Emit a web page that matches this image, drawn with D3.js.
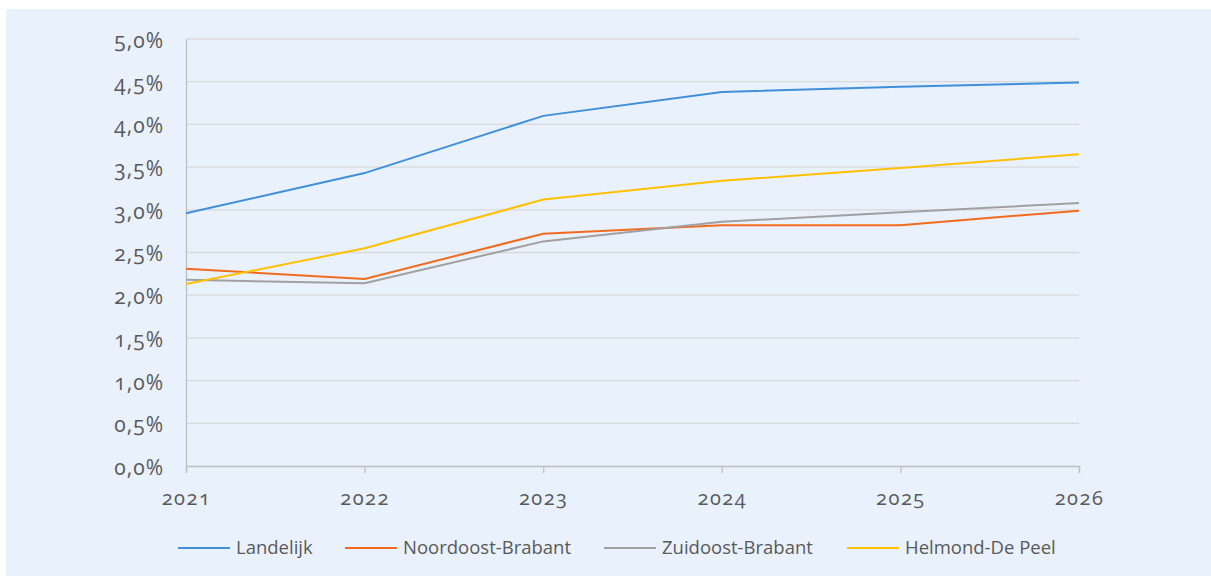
<!DOCTYPE html>
<html>
<head>
<meta charset="utf-8">
<script src="https://cdn.jsdelivr.net/npm/d3@7"></script>
<style>
  html, body { margin: 0; padding: 0; background: #fff; }
  svg { display: block; }
  text { font-family: "Open Sans", "Noto Sans", sans-serif; fill: #595959; font-feature-settings: "onum" 1; font-variant-numeric: oldstyle-nums; }
</style>
</head>
<body>
<div id="chart"></div>
<script>
var years = [2021, 2022, 2023, 2024, 2025, 2026];
var yTicks = [0, 0.5, 1, 1.5, 2, 2.5, 3, 3.5, 4, 4.5, 5];
var landelijk = [2.96, 3.43, 4.10, 4.38, 4.44, 4.49];
var noordoost = [2.31, 2.19, 2.72, 2.82, 2.82, 2.99];
var zuidoost = [2.18, 2.14, 2.63, 2.86, 2.97, 3.08];
var helmond = [2.13, 2.55, 3.12, 3.34, 3.49, 3.65];
var seriesNames = ["Landelijk", "Noordoost-Brabant", "Zuidoost-Brabant", "Helmond-De Peel"];
var seriesColors = ["#3f8fd9", "#f26b1d", "#a0a0a0", "#ffc000"];
var seriesValues = [landelijk, noordoost, zuidoost, helmond];

var W = 1211, H = 576;
var margin = {top: 39, left: 186, right: 132, bottom: 110};

var svg = d3.select("#chart").append("svg")
    .attr("width", W).attr("height", H);

// background panel
svg.append("rect")
    .attr("x", 6).attr("y", 9)
    .attr("width", W - 6).attr("height", H - 9)
    .attr("fill", "#e9f1fd");

var x = d3.scaleLinear()
    .domain([years[0], years[years.length - 1]])
    .range([margin.left, W - margin.right]);
var y = d3.scaleLinear()
    .domain([0, 5])
    .range([H - margin.bottom, margin.top]);

var fmt = function(d) { return d3.format(".1f")(d).replace(".", ",") + "%"; };

// gridlines
svg.append("g").selectAll("line")
    .data(yTicks.slice(1))
    .join("line")
    .attr("x1", x.range()[0]).attr("x2", x.range()[1])
    .attr("y1", function(d) { return y(d); })
    .attr("y2", function(d) { return y(d); })
    .attr("stroke", "#d9d9d9")
    .attr("stroke-width", 1.3);

// y axis
var yAxis = svg.append("g")
    .attr("transform", "translate(" + margin.left + ",0)")
    .call(d3.axisLeft(y).tickValues(yTicks).tickFormat(fmt).tickSize(0).tickPadding(22));
yAxis.select(".domain").attr("stroke", "#bfbfbf").attr("stroke-width", 1.3);
yAxis.selectAll("text").style("font-size", "21px").style("letter-spacing", "1px")
    .attr("fill", "#595959").attr("dy", "0.4em");

// x axis
var xAxis = svg.append("g")
    .attr("transform", "translate(0," + y(0) + ")")
    .call(d3.axisBottom(x).tickValues(years).tickFormat(d3.format("d")).tickSizeOuter(0).tickSize(7).tickPadding(18));
xAxis.select(".domain").attr("stroke", "#bfbfbf").attr("stroke-width", 1.3);
xAxis.selectAll(".tick line").attr("stroke", "#bfbfbf").attr("stroke-width", 1.3);
xAxis.selectAll("text").style("font-size", "20px").style("letter-spacing", "1.5px").attr("fill", "#595959");

// lines
var line = d3.line()
    .x(function(d, i) { return x(years[i]); })
    .y(function(d) { return y(d); });

svg.append("g").selectAll("path")
    .data(seriesValues)
    .join("path")
    .attr("d", line)
    .attr("fill", "none")
    .attr("stroke", function(d, i) { return seriesColors[i]; })
    .attr("stroke-width", 2);

// legend
var legendX = [178, 345, 604, 847];
var legend = svg.append("g").selectAll("g")
    .data(seriesNames)
    .join("g")
    .attr("transform", function(d, i) { return "translate(" + legendX[i] + ",548)"; });
legend.append("line")
    .attr("x1", 0).attr("x2", 52)
    .attr("stroke", function(d, i) { return seriesColors[i]; })
    .attr("stroke-width", 2);
legend.append("text")
    .attr("x", 58).attr("dy", "0.35em")
    .style("font-size", "18.5px")
    .text(function(d) { return d; });
</script>
</body>
</html>
